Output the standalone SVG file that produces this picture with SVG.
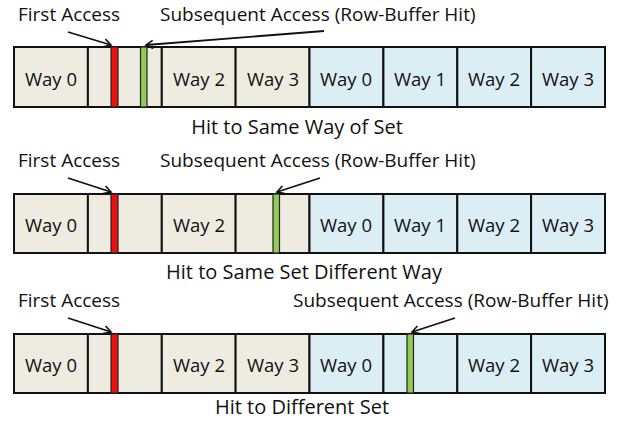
<svg xmlns="http://www.w3.org/2000/svg" width="628" height="422" viewBox="0 0 628 422">
<defs>
<style>
.t{font-family:"Open Sans","Liberation Sans",sans-serif;font-size:18.5px;fill:#111}
.h{font-size:19px}
.s{font-size:20px}
.c{text-anchor:middle}
.b{fill:#EEECE1;stroke:#111;stroke-width:2}
.l{fill:#DBEEF4;stroke:#111;stroke-width:2}
.red{fill:#E81010;stroke:#222;stroke-width:1.2}
.grn{fill:#8FCB55;stroke:#222;stroke-width:1.2}
.a{fill:none;stroke:#111;stroke-width:1.8;marker-end:url(#ah)}
</style>
<marker id="ah" markerWidth="10" markerHeight="10" refX="8" refY="5" orient="auto" markerUnits="userSpaceOnUse">
<path d="M1,1 L8,5 L1,9" fill="none" stroke="#111" stroke-width="1.6"/>
</marker>
</defs>
<rect width="628" height="422" fill="#fff"/>

<!-- Row 1 -->
<g id="row1">
<g id="r1c1"><rect class="b" x="14" y="47" width="73.9" height="60"/><text class="t c" x="51" y="86">Way 0</text></g>
<g id="r1c2"><rect class="b" x="87.9" y="47" width="73.9" height="60"/><rect class="red" x="111" y="47" width="7" height="60"/><rect class="grn" x="140.5" y="47" width="6.5" height="60"/></g>
<g id="r1c3"><rect class="b" x="161.8" y="47" width="73.9" height="60"/><text class="t c" x="199" y="86">Way 2</text></g>
<g id="r1c4"><rect class="b" x="235.6" y="47" width="73.9" height="60"/><text class="t c" x="273" y="86">Way 3</text></g>
<g id="r1c5"><rect class="l" x="309.5" y="47" width="73.9" height="60"/><text class="t c" x="346" y="86">Way 0</text></g>
<g id="r1c6"><rect class="l" x="383.4" y="47" width="73.9" height="60"/><text class="t c" x="420" y="86">Way 1</text></g>
<g id="r1c7"><rect class="l" x="457.3" y="47" width="73.9" height="60"/><text class="t c" x="494" y="86">Way 2</text></g>
<g id="r1c8"><rect class="l" x="531.1" y="47" width="73.9" height="60"/><text class="t c" x="568" y="86">Way 3</text></g>
<text class="t h" x="18" y="21">First Access</text>
<text class="t h" x="160" y="21">Subsequent Access (Row-Buffer Hit)</text>
<text class="t s c" x="297" y="134">Hit to Same Way of Set</text>
</g>

<!-- Row 2 -->
<g id="row2">
<g id="r2c1"><rect class="b" x="14" y="194" width="73.9" height="59"/><text class="t c" x="51" y="232">Way 0</text></g>
<g id="r2c2"><rect class="b" x="87.9" y="194" width="73.9" height="59"/><rect class="red" x="111" y="194" width="7" height="59"/></g>
<g id="r2c3"><rect class="b" x="161.8" y="194" width="73.9" height="59"/><text class="t c" x="199" y="232">Way 2</text></g>
<g id="r2c4"><rect class="b" x="235.6" y="194" width="73.9" height="59"/><rect class="grn" x="273" y="194" width="6.5" height="59"/></g>
<g id="r2c5"><rect class="l" x="309.5" y="194" width="73.9" height="59"/><text class="t c" x="346" y="232">Way 0</text></g>
<g id="r2c6"><rect class="l" x="383.4" y="194" width="73.9" height="59"/><text class="t c" x="420" y="232">Way 1</text></g>
<g id="r2c7"><rect class="l" x="457.3" y="194" width="73.9" height="59"/><text class="t c" x="494" y="232">Way 2</text></g>
<g id="r2c8"><rect class="l" x="531.1" y="194" width="73.9" height="59"/><text class="t c" x="568" y="232">Way 3</text></g>
<text class="t h" x="18" y="167">First Access</text>
<text class="t h" x="160" y="167">Subsequent Access (Row-Buffer Hit)</text>
<text class="t s c" x="304" y="279">Hit to Same Set Different Way</text>
</g>

<!-- Row 3 -->
<g id="row3">
<g id="r3c1"><rect class="b" x="14" y="334" width="73.9" height="59"/><text class="t c" x="51" y="372">Way 0</text></g>
<g id="r3c2"><rect class="b" x="87.9" y="334" width="73.9" height="59"/><rect class="red" x="111" y="334" width="7" height="59"/></g>
<g id="r3c3"><rect class="b" x="161.8" y="334" width="73.9" height="59"/><text class="t c" x="199" y="372">Way 2</text></g>
<g id="r3c4"><rect class="b" x="235.6" y="334" width="73.9" height="59"/><text class="t c" x="273" y="372">Way 3</text></g>
<g id="r3c5"><rect class="l" x="309.5" y="334" width="73.9" height="59"/><text class="t c" x="346" y="372">Way 0</text></g>
<g id="r3c6"><rect class="l" x="383.4" y="334" width="73.9" height="59"/><rect class="grn" x="407" y="334" width="6.5" height="59"/></g>
<g id="r3c7"><rect class="l" x="457.3" y="334" width="73.9" height="59"/><text class="t c" x="494" y="372">Way 2</text></g>
<g id="r3c8"><rect class="l" x="531.1" y="334" width="73.9" height="59"/><text class="t c" x="568" y="372">Way 3</text></g>
<text class="t h" x="18" y="307">First Access</text>
<text class="t h" x="293" y="307">Subsequent Access (Row-Buffer Hit)</text>
<text class="t s c" x="302" y="414">Hit to Different Set</text>
</g>

<g id="connectors">
<line class="a" x1="68" y1="32" x2="111" y2="45"/>
<line class="a" x1="324" y1="31" x2="146" y2="45"/>
<line class="a" x1="68" y1="178" x2="111" y2="192"/>
<line class="a" x1="320" y1="178" x2="277" y2="192"/>
<line class="a" x1="68" y1="318" x2="111" y2="332"/>
<line class="a" x1="455" y1="318" x2="412" y2="332"/>
</g>
</svg>
